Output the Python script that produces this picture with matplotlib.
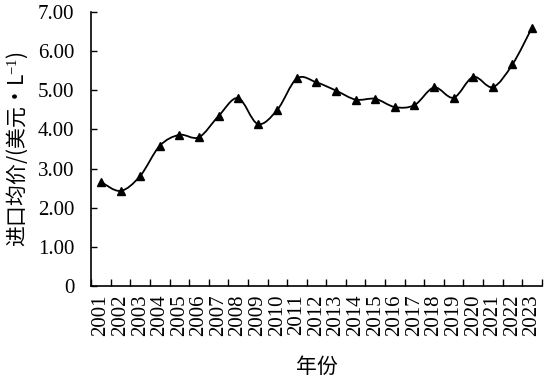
import matplotlib
matplotlib.use("Agg")
import matplotlib.pyplot as plt
from matplotlib.path import Path
from matplotlib.patches import PathPatch

# 年份与进口均价（美元/L）
years = [str(y) for y in range(2001, 2024)]
prices = [2.66, 2.43, 2.81, 3.58, 3.86, 3.80, 4.34, 4.80, 4.14, 4.50, 5.30, 5.20,
          4.99, 4.76, 4.78, 4.57, 4.62, 5.07, 4.81, 5.34, 5.08, 5.66, 6.60]
y_ticks = [0, 1, 2, 3, 4, 5, 6, 7]
y_tick_labels = ["0", "1.00", "2.00", "3.00", "4.00", "5.00", "6.00", "7.00"]

plt.rcParams["font.family"] = ["Liberation Serif", "Noto Sans CJK SC"]
plt.rcParams["mathtext.fontset"] = "custom"
plt.rcParams["mathtext.rm"] = "Liberation Serif"
plt.rcParams["mathtext.it"] = "Liberation Serif:italic"


def smooth_path(xs, ys):
    # 类似 Excel 平滑线：Catmull-Rom 转三次贝塞尔
    pts = list(zip(xs, ys))
    verts = [pts[0]]
    codes = [Path.MOVETO]
    n = len(pts)
    for i in range(n - 1):
        p0 = pts[i - 1] if i > 0 else pts[i]
        p1 = pts[i]
        p2 = pts[i + 1]
        p3 = pts[i + 2] if i + 2 < n else pts[i + 1]
        c1 = (p1[0] + (p2[0] - p0[0]) / 6, p1[1] + (p2[1] - p0[1]) / 6)
        c2 = (p2[0] - (p3[0] - p1[0]) / 6, p2[1] - (p3[1] - p1[1]) / 6)
        verts += [c1, c2, p2]
        codes += [Path.CURVE4] * 3
    return Path(verts, codes)


fig = plt.figure(figsize=(5.49, 3.83), dpi=100)
ax = fig.add_axes([0.166, 0.253, 0.821, 0.716])

x = list(range(len(years)))
ax.add_patch(PathPatch(smooth_path(x, prices), facecolor="none",
                       edgecolor="black", linewidth=1.3))
ax.plot(x, prices, linestyle="none", marker="^", markersize=5.5, color="black")

ax.set_xlim(-0.5, len(years) - 0.5)
ax.set_ylim(0, 7)
ax.set_yticks(y_ticks)
ax.set_yticklabels(y_tick_labels)
ax.set_xticks(x)
ax.set_xticklabels(years, rotation=90)
ax.set_xticks([i - 0.5 for i in range(len(years) + 1)], minor=True)
ax.tick_params(axis="x", which="major", length=0, pad=6, labelsize=15)
ax.tick_params(axis="x", which="minor", direction="in", length=5, width=1)
ax.tick_params(axis="y", direction="in", length=4, width=1, pad=12, labelsize=15)

for side in ["top", "right"]:
    ax.spines[side].set_visible(False)
for side in ["left", "bottom"]:
    ax.spines[side].set_linewidth(1.2)

ax.set_xlabel("年份", fontsize=15, family=["Noto Sans CJK SC"], labelpad=14)
ax.set_ylabel("进口均价/(美元·L$^{-1}$)", fontsize=15,
              family=["Noto Sans CJK SC", "Liberation Serif"], labelpad=6)

plt.savefig("out.png", dpi=100)
